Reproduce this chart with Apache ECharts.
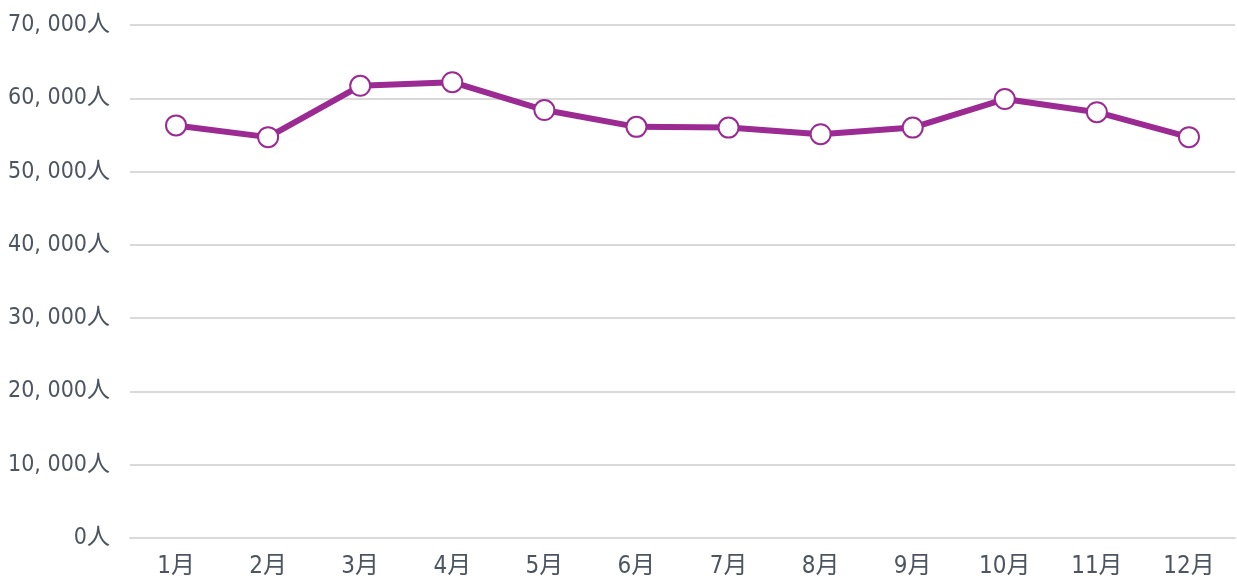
<!DOCTYPE html>
<html>
<head>
<meta charset="utf-8">
<script src="https://cdn.jsdelivr.net/npm/echarts@6/dist/echarts.min.js"></script>
<style>
  html, body { margin: 0; padding: 0; background: #fff; }
  #main { width: 1237px; height: 583px; }
</style>
</head>
<body>
<div id="main"></div>
<script>
// 月別人数
let months = ['1月', '2月', '3月', '4月', '5月', '6月', '7月', '8月', '9月', '10月', '11月', '12月'];
let people = [56300, 54700, 61700, 62200, 58400, 56100, 56000, 55100, 56000, 59900, 58100, 54700];
let lineColor = '#9b2a93';
let textColor = '#4d5560';
let fontName = '"DejaVu Sans Condensed", "Noto Sans CJK JP", sans-serif';

let chart = echarts.init(document.getElementById('main'));

function fmt_people(v) {
    // 70, 000人 の形
    let s = String(v).replace(/\B(?=(\d{3})+(?!\d))/g, ', ');
    return s + '人';
}

chart.setOption({
    animation: false,
    backgroundColor: '#fff',
    grid: {left: 130, right: 2, top: 25, bottom: 45, outerBoundsMode: 'none', containLabel: false},
    xAxis: {
        type: 'category',
        data: months,
        boundaryGap: true,
        axisLine: {lineStyle: {color: '#d9d9d9', width: 2}},
        axisTick: {show: false},
        axisLabel: {color: textColor, fontSize: 24, fontFamily: fontName, margin: 17}
    },
    yAxis: {
        type: 'value',
        min: 0,
        max: 70000,
        interval: 10000,
        axisLine: {show: false},
        axisTick: {show: false},
        splitLine: {lineStyle: {color: '#d9d9d9', width: 2}},
        axisLabel: {color: textColor, fontSize: 23, fontFamily: fontName, margin: 20, formatter: fmt_people}
    },
    series: [{
        type: 'line',
        data: people,
        symbol: 'circle',
        symbolSize: 20,
        lineStyle: {color: lineColor, width: 6},
        itemStyle: {color: '#fff', borderColor: lineColor, borderWidth: 2}
    }]
});
</script>
</body>
</html>
